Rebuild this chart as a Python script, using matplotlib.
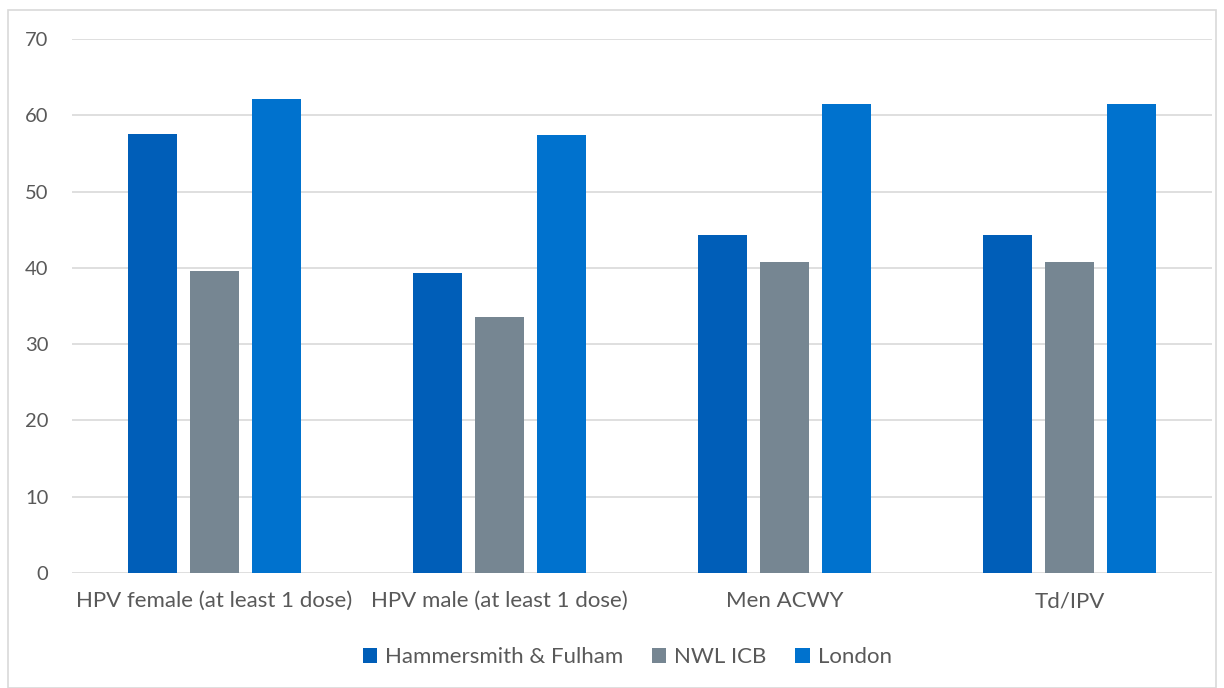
import numpy as np
import matplotlib.pyplot as plt
from matplotlib.patches import Rectangle

categories = ['HPV female (at least 1 dose)', 'HPV male (at least 1 dose)', 'Men ACWY', 'Td/IPV']
hammersmith = [57.5, 39.3, 44.3, 44.3]
nwl_icb = [39.6, 33.6, 40.8, 40.8]
london = [62.1, 57.4, 61.5, 61.5]

series = ['Hammersmith & Fulham', 'NWL ICB', 'London']
colours = ['#005EB8', '#768692', '#0072CE']

plt.rcParams['font.family'] = ['Lato', 'DejaVu Sans']
text_col = '#595959'

fig = plt.figure(figsize=(12.24, 6.88), dpi=100)
ax = fig.add_axes([72 / 1224, 1 - 573 / 688, (1212 - 72) / 1224, (573 - 39) / 688])

x = np.arange(len(categories))
w = 0.172
step = 0.219
for i, (vals, name, col) in enumerate(zip([hammersmith, nwl_icb, london], series, colours)):
    ax.bar(x + (i - 1) * step, vals, w, color=col, label=name, zorder=3)

ax.set_xlim(-0.5, len(categories) - 0.5)
ax.set_ylim(0, 70)
ax.set_yticks(range(0, 71, 10))
ax.yaxis.grid(True, color='#d9d9d9', linewidth=1.2, zorder=0)
for s in ax.spines.values():
    s.set_visible(False)
ax.tick_params(axis='both', length=0, labelcolor=text_col)
ax.tick_params(axis='y', pad=17, labelsize=14.5)
ax.tick_params(axis='x', pad=13, labelsize=16)
ax.set_xticks(x)
ax.set_xticklabels(categories)

ax.legend(loc='center', bbox_to_anchor=(0.487, -0.158), ncol=3, frameon=False,
          fontsize=16, labelcolor=text_col, handlelength=0.65, handleheight=0.65,
          handletextpad=0.35, columnspacing=1.3)

fig.patches.append(Rectangle((8 / 1224, 0), 1 - 16 / 1224, 1 - 10 / 688, transform=fig.transFigure,
                             fill=False, edgecolor='#d9d9d9', linewidth=1.2))

fig.savefig('out.png', dpi=100)
